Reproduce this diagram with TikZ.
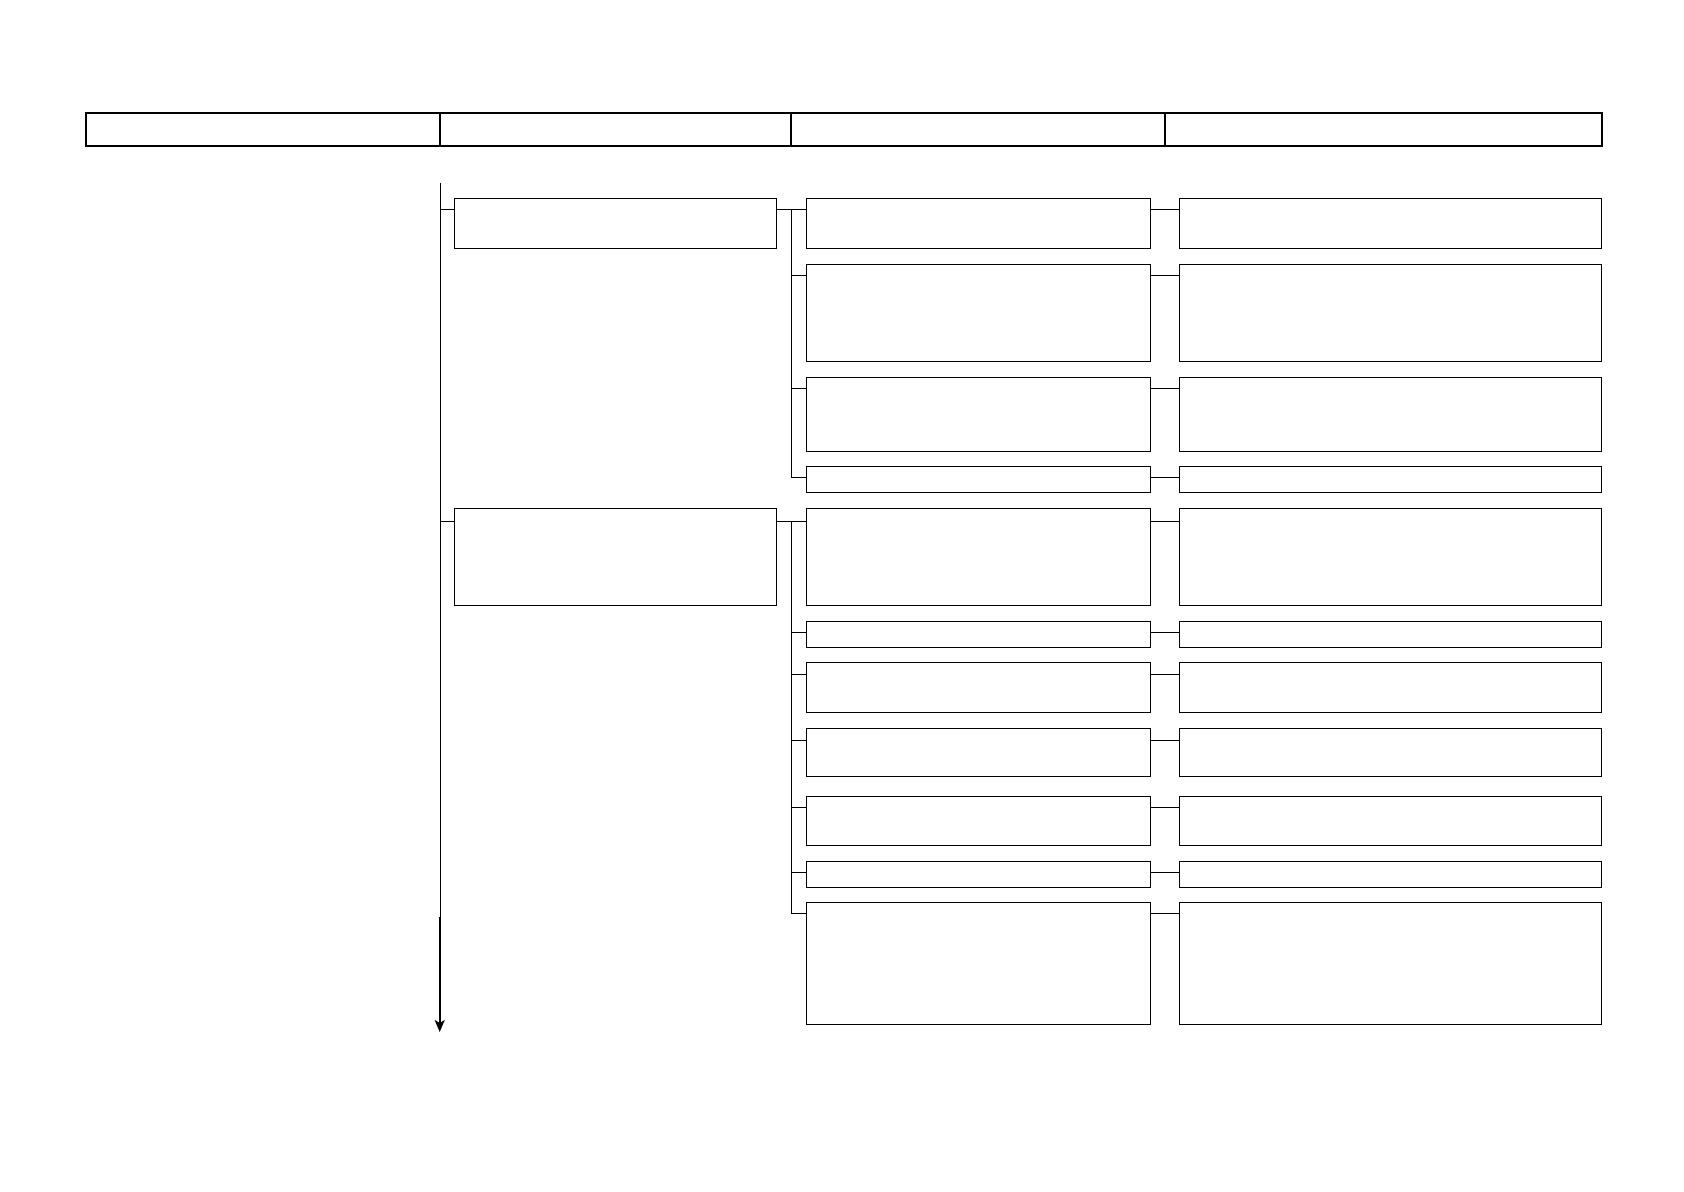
\documentclass[tikz,border=0pt]{standalone}
\usetikzlibrary{fit,calc,arrows.meta}
\begin{document}
\begin{tikzpicture}[x=0.5pt,y=-0.5pt,
  box/.style={draw=black,line width=0.5pt,inner sep=0pt,rectangle},
  hcell/.style={draw=black,line width=1.1pt,inner sep=0pt,rectangle},
  link/.style={draw=black,line width=0.5pt},
  tline/.style={draw=black,line width=0.6pt},
  tarrow/.style={draw=black,line width=0.9pt,-{Stealth[length=6pt,width=5pt,inset=1.5pt]}}]
\useasboundingbox (0,0) rectangle (1684,1191);
% header
\node[hcell,fit={(86,113)(440,146)}] (h1) {};
\node[hcell,fit={(440,113)(791,146)}] (h2) {};
\node[hcell,fit={(791,113)(1165,146)}] (h3) {};
\node[hcell,fit={(1165,113)(1602,146)}] (h4) {};
% timeline
\coordinate (tltop) at (440.3,183);
\coordinate (tlmid) at (440.3,919);
\coordinate (tlmidb) at (439.7,917);
\coordinate (tlend) at (439.7,1032);
\draw[tline] (tltop) -- (tlmid);
\draw[tarrow] (tlmidb) -- (tlend);
% level 1 boxes
\node[box,fit={(454,198)(776,248)}] (L1a) {};
\node[box,fit={(454,508)(776,605)}] (L1b) {};
% level 2 boxes
\node[box,fit={(806,198)(1150,248)}] (A) {};
\node[box,fit={(806,264)(1150,361)}] (B) {};
\node[box,fit={(806,377)(1150,451)}] (C) {};
\node[box,fit={(806,466)(1150,492)}] (D) {};
\node[box,fit={(806,508)(1150,605)}] (E) {};
\node[box,fit={(806,621)(1150,647)}] (F) {};
\node[box,fit={(806,662)(1150,712)}] (G) {};
\node[box,fit={(806,728)(1150,776)}] (H) {};
\node[box,fit={(806,796)(1150,845)}] (I) {};
\node[box,fit={(806,861)(1150,887)}] (J) {};
\node[box,fit={(806,902)(1150,1024)}] (K) {};
% level 3 boxes
\node[box,fit={(1179,198)(1601,248)}] (A3) {};
\node[box,fit={(1179,264)(1601,361)}] (B3) {};
\node[box,fit={(1179,377)(1601,451)}] (C3) {};
\node[box,fit={(1179,466)(1601,492)}] (D3) {};
\node[box,fit={(1179,508)(1601,605)}] (E3) {};
\node[box,fit={(1179,621)(1601,647)}] (F3) {};
\node[box,fit={(1179,662)(1601,712)}] (G3) {};
\node[box,fit={(1179,728)(1601,776)}] (H3) {};
\node[box,fit={(1179,796)(1601,845)}] (I3) {};
\node[box,fit={(1179,861)(1601,887)}] (J3) {};
\node[box,fit={(1179,902)(1601,1024)}] (K3) {};
% connection points
\coordinate (bus) at (791,0);
\foreach \n/\d in {A/12,B/12,C/12,D/12,E/14,F/12,G/13,H/13,I/12,J/12,K/12,L1a/12,L1b/14}{
  \coordinate (\n-in) at ($(\n.north west)+(0,\d)$);
}
% timeline to level 1
\draw[link] (tltop |- L1a-in) -- (L1a-in);
\draw[link] (tltop |- L1b-in) -- (L1b-in);
% level 1 to bus
\draw[link] (L1a.east |- A-in) -- (A-in);
\draw[link] (L1b.east |- E-in) -- (E-in);
% buses
\draw[link] (bus |- A-in) -- (bus |- D-in);
\draw[link] (bus |- E-in) -- (bus |- K-in);
\foreach \n in {B,C,D,F,G,H,I,J,K}{
  \draw[link] (bus |- \n-in) -- (\n-in);
}
% level 2 to level 3
\foreach \n in {A,B,C,D,E,F,G,H,I,J,K}{
  \draw[link] (\n.east |- \n-in) -- (\n3.west |- \n-in);
}
\end{tikzpicture}
\end{document}
